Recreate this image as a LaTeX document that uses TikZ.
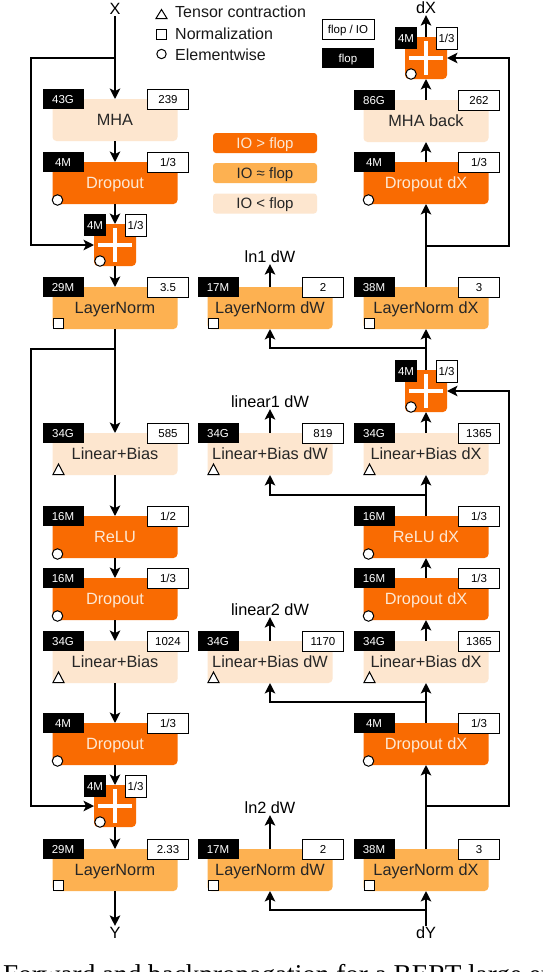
\documentclass[tikz,border=0pt]{standalone}
\usepackage{fontspec}
\setmainfont{Liberation Sans}
\newfontfamily\capfont{Liberation Serif}
\usetikzlibrary{arrows.meta}
\definecolor{hi}{RGB}{249,107,2}
\definecolor{mid}{RGB}{253,177,81}
\definecolor{lo}{RGB}{253,230,207}
\definecolor{cream}{RGB}{253,232,212}
\newcommand{\FS}[1]{\fontsize{#1}{#1}\selectfont}
\tikzset{
  opnode/.style={rectangle, rounded corners=4pt, minimum width=125pt, minimum height=42pt,
    inner sep=0pt, outer sep=0pt, font=\FS{16.3}, text height=11.7pt, text depth=0pt},
  hibox/.style={fill=hi, text=cream},
  midbox/.style={fill=mid, text=black!85},
  lobox/.style={fill=lo, text=black!85},
  ftag/.style={rectangle, fill=black, text=white, minimum width=41pt, minimum height=20pt,
    inner sep=0pt, outer sep=0pt, font=\FS{11.5}, text height=8.3pt, text depth=0pt},
  rtag/.style={rectangle, fill=white, draw=black, line width=1pt, text=black, minimum width=41pt,
    minimum height=20pt, inner sep=0pt, outer sep=0pt, font=\FS{11.5}, text height=8.3pt, text depth=0pt},
  symc/.style={circle, draw=black, fill=white, line width=1pt, minimum size=10.5pt, inner sep=0pt, outer sep=0pt},
  syms/.style={rectangle, draw=black, fill=white, line width=1pt, minimum size=10.5pt, inner sep=0pt, outer sep=0pt},
  symline/.style={draw=black, fill=white, line width=1pt, line join=miter},
  plusnode/.style={rectangle, rounded corners=4pt, fill=hi, minimum size=42pt, inner sep=0pt, outer sep=0pt},
  lbl/.style={font=\FS{16.3}, inner sep=1pt, text height=11.7pt, text depth=0pt, text=black},
  conn/.style={draw=black, line width=1.9pt, -{Stealth[length=10.5pt,width=10.5pt,inset=2.5pt]}},
  legtxt/.style={font=\FS{16}, inner sep=0pt, anchor=base west, text=black!90},
  colleg/.style={rectangle, rounded corners=3pt, minimum width=104pt, minimum height=20pt, inner sep=0pt,
    font=\FS{15}, text height=10.8pt, text depth=0pt},
}
\newcommand{\SymC}[1]{\node[symc] (#1s) at ([xshift=5pt,yshift=4pt]#1.south west) {};}
\newcommand{\SymS}[1]{\node[syms,anchor=south west] (#1s) at ([xshift=0.5pt,yshift=0.5pt]#1.south west) {};}
\newcommand{\SymT}[1]{\draw[symline] ([xshift=0.5pt,yshift=0.5pt]#1.south west) -- ++(11pt,0pt) -- ++(-5.5pt,10.5pt) -- cycle;}
\newcommand{\SymN}[1]{}
\newcommand{\OpBox}[8]{%
  \node[opnode,#4,anchor=north] (#1) at (#2,#3) {#5};
  \node[ftag,anchor=north west] (#1f) at ([xshift=-10pt,yshift=10pt]#1.north west) {#6};
  \node[rtag,anchor=north east] (#1r) at ([xshift=11pt,yshift=10pt]#1.north east) {#7};
  #8{#1}}
\newcommand{\PlusBox}[3]{%
  \node[plusnode] (#1) at (#2,#3) {};
  \fill[white] ([xshift=-17pt,yshift=-2.3pt]#1.center) rectangle ([xshift=17pt,yshift=2.3pt]#1.center);
  \fill[white] ([xshift=-2.3pt,yshift=-17pt]#1.center) rectangle ([xshift=2.3pt,yshift=17pt]#1.center);
  \node[ftag,minimum width=22pt,minimum height=22pt,anchor=north west] (#1f) at ([xshift=-10pt,yshift=10pt]#1.north west) {4M};
  \node[rtag,minimum width=21pt,minimum height=22pt,anchor=north east] (#1r) at ([xshift=10pt,yshift=10pt]#1.north east) {1/3};
  \node[symc] (#1s) at ([xshift=6pt,yshift=5pt]#1.south west) {};}
\begin{document}
\begin{tikzpicture}[x=1pt,y=-1pt]
\useasboundingbox (0,0) rectangle (542,972);
\fill[white] (0,0) rectangle (542,972);

% ---- legend ----
\draw[symline] (156,18.5) -- (167,18.5) -- (161.5,9.5) -- cycle;
\node[legtxt] (lg1) at (175,17) {Tensor contraction};
\draw[symline] (156.5,29) rectangle (166.5,39);
\node[legtxt] (lg2) at (175,39) {Normalization};
\draw[symline] (161.5,54) circle (4.7pt);
\node[legtxt] (lg3) at (175,60) {Elementwise};
\node[rtag, minimum width=52pt] (lgio) at (348,29) {flop / IO};
\node[ftag, minimum width=52pt] (lgfl) at (348,58) {flop};
\node[colleg, fill=hi, text=cream] (ch) at (265,143) {IO > flop};
\node[colleg, fill=mid, text=black!85] (cm) at (265,173) {IO ≈ flop};
\node[colleg, fill=lo, text=black!85] (cl) at (265,203.5) {IO < flop};

% ---- left column ----
\OpBox{L1}{115}{99}{lobox}{MHA}{43G}{239}{\SymN}
\OpBox{L2}{115}{162}{hibox}{Dropout}{4M}{1/3}{\SymC}
\PlusBox{LP1}{115}{245}
\OpBox{L3}{115}{287}{midbox}{LayerNorm}{29M}{3.5}{\SymS}
\OpBox{L4}{115}{433}{lobox}{Linear+Bias}{34G}{585}{\SymT}
\OpBox{L5}{115}{516}{hibox}{ReLU}{16M}{1/2}{\SymC}
\OpBox{L6}{115}{578}{hibox}{Dropout}{16M}{1/3}{\SymC}
\OpBox{L7}{115}{641}{lobox}{Linear+Bias}{34G}{1024}{\SymT}
\OpBox{L8}{115}{723}{hibox}{Dropout}{4M}{1/3}{\SymC}
\PlusBox{LP2}{115}{806}
\OpBox{L9}{115}{849}{midbox}{LayerNorm}{29M}{2.33}{\SymS}
\node[lbl] (X) at (115,9) {X};
\node[lbl] (Y) at (115,933) {Y};

% ---- middle column ----
\OpBox{M1}{270}{287}{midbox}{LayerNorm dW}{17M}{2}{\SymS}
\OpBox{M2}{270}{433}{lobox}{Linear+Bias dW}{34G}{819}{\SymT}
\OpBox{M3}{270}{641}{lobox}{Linear+Bias dW}{34G}{1170}{\SymT}
\OpBox{M4}{270}{849}{midbox}{LayerNorm dW}{17M}{2}{\SymS}
\node[lbl] (w1) at (270,257) {ln1 dW};
\node[lbl] (w2) at (270,402) {linear1 dW};
\node[lbl] (w3) at (270,610) {linear2 dW};
\node[lbl] (w4) at (270,808) {ln2 dW};

% ---- right column ----
\PlusBox{R0}{426}{58}
\OpBox{R1}{426}{100}{lobox}{MHA back}{86G}{262}{\SymN}
\OpBox{R2}{426}{162}{hibox}{Dropout dX}{4M}{1/3}{\SymC}
\OpBox{R3}{426}{287}{midbox}{LayerNorm dX}{38M}{3}{\SymS}
\PlusBox{RP}{426}{391}
\OpBox{R4}{426}{433}{lobox}{Linear+Bias dX}{34G}{1365}{\SymT}
\OpBox{R5}{426}{516}{hibox}{ReLU dX}{16M}{1/3}{\SymC}
\OpBox{R6}{426}{578}{hibox}{Dropout dX}{16M}{1/3}{\SymC}
\OpBox{R7}{426}{641}{lobox}{Linear+Bias dX}{34G}{1365}{\SymT}
\OpBox{R8}{426}{723}{hibox}{Dropout dX}{4M}{1/3}{\SymC}
\OpBox{R9}{426}{849}{midbox}{LayerNorm dX}{38M}{3}{\SymS}
\node[lbl] (dX) at (426,8) {dX};
\node[lbl] (dY) at (426,933) {dY};

% ---- coordinates for bends ----
\coordinate (k1) at (31,58);
\coordinate (k2) at (31,349);
\coordinate (r1) at (509,246);
\coordinate (r2) at (509,806);
\coordinate (b1) at (426,348);
\coordinate (b2) at (426,495);
\coordinate (b3) at (426,702);
\coordinate (b4) at (426,910);

% ---- left connectors ----
\draw[conn] (X.south) -- (L1.north);
\draw[conn] (k1 -| X) -- (k1) |- (LP1.west);
\draw[conn] (L1.south) -- (L2.north);
\draw[conn] (L2.south) -- (LP1.north);
\draw[conn] (LP1.south) -- (L3.north);
\draw[conn] (L3.south) -- (L4.north);
\draw[conn] (k2 -| L3) -- (k2) |- (LP2.west);
\draw[conn] (L4.south) -- (L5.north);
\draw[conn] (L5.south) -- (L6.north);
\draw[conn] (L6.south) -- (L7.north);
\draw[conn] (L7.south) -- (L8.north);
\draw[conn] (L8.south) -- (LP2.north);
\draw[conn] (LP2.south) -- (L9.north);
\draw[conn] (L9.south) -- (Y.north);

% ---- middle connectors ----
\draw[conn] (M1.north) -- (w1.south);
\draw[conn] (M2.north) -- (w2.south);
\draw[conn] (M3.north) -- (w3.south);
\draw[conn] (M4.north) -- (w4.south);
\draw[conn] (b1) -| (M1.south);
\draw[conn] (b2) -| (M2.south);
\draw[conn] (b3) -| (M3.south);
\draw[conn] (b4) -| (M4.south);

% ---- right connectors ----
\draw[conn] (dY.north) -- (R9.south);
\draw[conn] (R9.north) -- (R8.south);
\draw[conn] (r2 -| R9) -- (r2) |- (RP.east);
\draw[conn] (R8.north) -- (R7.south);
\draw[conn] (R7.north) -- (R6.south);
\draw[conn] (R6.north) -- (R5.south);
\draw[conn] (R5.north) -- (R4.south);
\draw[conn] (R4.north) -- (RP.south);
\draw[conn] (RP.north) -- (R3.south);
\draw[conn] (R3.north) -- (R2.south);
\draw[conn] (r1 -| R3) -- (r1) |- (R0.east);
\draw[conn] (R2.north) -- (R1.south);
\draw[conn] (R1.north) -- (R0.south);
\draw[conn] (R0.north) -- (dX.south);

% ---- caption (cut by the page edge, as in the reference) ----
\begin{scope}
\clip (0,0) rectangle (542,972);
\node[anchor=base west, font=\capfont\FS{27.2}, inner sep=0pt, text=black] (cap) at (3,983) {Forward and backpropagation for a BERT-large encoder layer};
\end{scope}
\end{tikzpicture}
\end{document}
